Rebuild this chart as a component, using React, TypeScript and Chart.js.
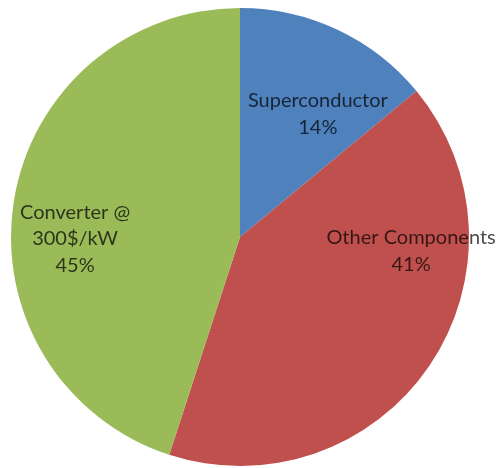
import React, { useEffect, useRef } from "react";
import { Chart, registerables } from "chart.js";

Chart.register(...registerables);

const categories = ["Superconductor", "Other Components", "Converter @ 300$/kW"];
const labelLines = [["Superconductor"], ["Other Components"], ["Converter @", "300$/kW"]];
const values = [14, 41, 45];
const colors = ["#4F81BD", "#C0504D", "#9BBB59"];

// label block centre, as fraction of the radius from the pie centre (x right, y down)
const labelOffsets = [
  [0.34, -0.537],
  [0.747, 0.061],
  [-0.72, 0.007],
];

const labelPlugin = {
  id: "sliceLabels",
  afterDatasetsDraw(chart: any) {
    const meta = chart.getDatasetMeta(0);
    const ctx = chart.ctx;
    const total = values.reduce((a, b) => a + b, 0);
    ctx.save();
    ctx.font = "20px Lato, 'DejaVu Sans', sans-serif";
    ctx.fillStyle = "rgba(0,0,0,0.72)";
    ctx.textAlign = "center";
    ctx.textBaseline = "middle";
    const lh = 26.5;
    meta.data.forEach((arc: any, i: number) => {
      const { x, y, outerRadius } = arc.getProps(["x", "y", "outerRadius"], true);
      const lines = [...labelLines[i], Math.round((values[i] / total) * 100) + "%"];
      const cx = x + labelOffsets[i][0] * outerRadius;
      const cy = y + labelOffsets[i][1] * outerRadius;
      const top = cy - ((lines.length - 1) * lh) / 2;
      lines.forEach((ln, k) => ctx.fillText(ln, cx, top + k * lh));
    });
    ctx.restore();
  },
};

export default function App() {
  const ref = useRef<HTMLCanvasElement>(null);
  useEffect(() => {
    document.body.style.margin = "0";
    const chart = new Chart(ref.current!, {
      type: "pie",
      data: {
        labels: categories,
        datasets: [
          {
            data: values,
            backgroundColor: colors,
            borderColor: "#ffffff",
            borderWidth: 0,
          },
        ],
      },
      options: {
        responsive: false,
        animation: false,
        layout: { padding: { left: 11, right: 30, top: 8, bottom: 2 } },
        plugins: {
          legend: { display: false },
          tooltip: { enabled: false },
        },
      },
      plugins: [labelPlugin],
    });
    return () => chart.destroy();
  }, []);
  return (
    <div style={{ width: 499, height: 468, background: "#fff" }}>
      <canvas ref={ref} width={499} height={468} />
    </div>
  );
}
